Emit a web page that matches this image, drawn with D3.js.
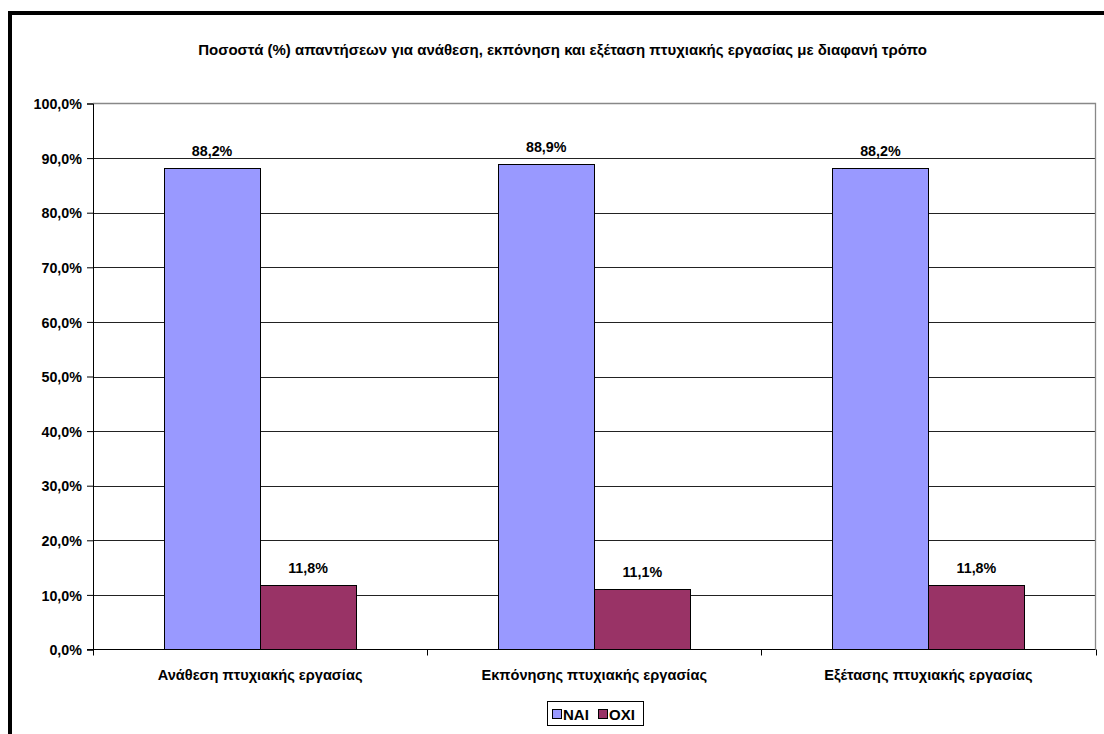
<!DOCTYPE html>
<html><head><meta charset="utf-8">
<script src="https://cdn.jsdelivr.net/npm/d3@7"></script>
<style>
html,body{margin:0;padding:0;background:#fff;}
svg text{font-family:"Liberation Sans",Arial,sans-serif;font-weight:bold;fill:#000;}
</style></head>
<body>
<svg id="c" width="1104" height="734"></svg>
<script>
const title = "Ποσοστά (%) απαντήσεων για ανάθεση, εκπόνηση και εξέταση πτυχιακής εργασίας με διαφανή τρόπο";
const categories = ["Ανάθεση πτυχιακής εργασίας", "Εκπόνησης πτυχιακής εργασίας", "Εξέτασης πτυχιακής εργασίας"];
const seriesNames = ["ΝΑΙ", "ΟΧΙ"];
const naiValues = [88.2, 88.9, 88.2];
const oxiValues = [11.8, 11.1, 11.8];
const yTicks = [0, 10, 20, 30, 40, 50, 60, 70, 80, 90, 100];
const colors = ["#9999FF", "#993366"];

const svg = d3.select("#c");
// outer chart border
svg.append("rect").attr("x", 10).attr("y", 13).attr("width", 1200).attr("height", 800)
  .attr("fill", "none").attr("stroke", "#000").attr("stroke-width", 4);

const L = 93, R = 1095.5, T = 103.5, B = 649.5;
const x0 = d3.scaleBand().domain(categories).range([L, R]).paddingInner(0).paddingOuter(0);
const y = d3.scaleLinear().domain([0, 100]).range([B, T]);
const x1 = d3.scaleBand().domain(seriesNames).range([0, 192]);
const groupOff = (x0.bandwidth() - 192) / 2;

const fmt = v => d3.format(".1f")(v).replace(".", ",");

// title
svg.append("text").attr("x", 562.5).attr("y", 54.5).attr("text-anchor", "middle")
  .style("font-size", "15px").text(title);

// gridlines
svg.append("g").selectAll("line").data(yTicks.filter(t => t > 0 && t < 100)).join("line")
  .attr("x1", L).attr("x2", R).attr("y1", d => Math.round(y(d)) + 0.5).attr("y2", d => Math.round(y(d)) + 0.5)
  .attr("stroke", "#222").attr("stroke-width", 1);
// plot area border (top/right grey)
svg.append("path").attr("d", `M${L},${T}H${R}V${B}`).attr("fill", "none").attr("stroke", "#888").attr("stroke-width", 1.3);

// bars
const data = categories.map((c, i) => ({cat: c, vals: [naiValues[i], oxiValues[i]]}));
const g = svg.append("g");
data.forEach(d => {
  d.vals.forEach((v, j) => {
    const bx = x0(d.cat) + groupOff + x1(seriesNames[j]);
    g.append("rect").attr("x", Math.round(bx) + 0.5).attr("y", Math.round(y(v)) + 0.5)
      .attr("width", x1.bandwidth()).attr("height", B - Math.round(y(v)) - 0.5)
      .attr("fill", colors[j]).attr("stroke", "#000").attr("stroke-width", 1);
    g.append("text").attr("x", bx + x1.bandwidth() / 2).attr("y", y(v) - 12)
      .attr("text-anchor", "middle").style("font-size", "14.3px")
      .text(fmt(v) + "%");
  });
});

// y axis
const yAxis = d3.axisLeft(y).tickValues(yTicks).tickSize(6).tickPadding(5).tickFormat(d => fmt(d) + "%");
const ya = svg.append("g").attr("transform", `translate(${L},0)`).call(yAxis);
ya.select(".domain").attr("stroke", "#000");
ya.selectAll(".tick line").attr("stroke", "#000");
ya.selectAll("text").style("font-size", "14.3px").attr("dy", "0.36em");

// x axis
const xa = svg.append("g").attr("transform", `translate(0,${B})`);
xa.append("line").attr("x1", L - 6).attr("x2", R).attr("stroke", "#000");
xa.selectAll(".tk").data([L, ...categories.map(c => x0(c) + x0.bandwidth())]).join("line")
  .attr("x1", d => Math.round(d) + 0.5).attr("x2", d => Math.round(d) + 0.5).attr("y1", 0).attr("y2", 6).attr("stroke", "#000");
xa.selectAll("text").data(categories).join("text")
  .attr("x", d => x0(d) + x0.bandwidth() / 2).attr("y", 30).attr("text-anchor", "middle")
  .style("font-size", "14.6px").text(d => d);

// legend
const lg = svg.append("g");
lg.append("rect").attr("x", 547.5).attr("y", 701.5).attr("width", 96).attr("height", 24)
  .attr("fill", "#fff").attr("stroke", "#000");
const legX = [552, 598];
seriesNames.forEach((s, i) => {
  lg.append("rect").attr("x", legX[i] + 0.5).attr("y", 709.5).attr("width", 9).attr("height", 9)
    .attr("fill", colors[i]).attr("stroke", "#000");
  lg.append("text").attr("x", legX[i] + 11).attr("y", 719.5).style("font-size", "15px").text(s);
});
</script>
</body></html>
